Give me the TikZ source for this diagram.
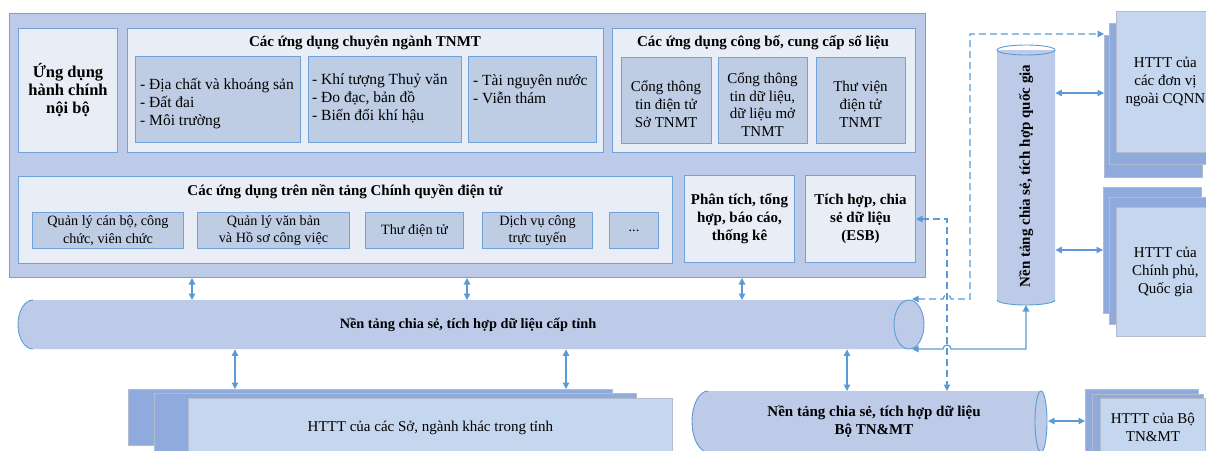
\documentclass[tikz,border=0pt]{standalone}
\usepackage{fontspec}
\setmainfont{Liberation Serif}
\usetikzlibrary{arrows.meta}
\definecolor{outerfill}{RGB}{189,203,232}
\definecolor{lightfill}{RGB}{233,237,245}
\definecolor{subfill}{RGB}{190,204,228}
\definecolor{bord}{RGB}{112,162,220}
\definecolor{arrc}{RGB}{91,155,213}
\definecolor{stkdark}{RGB}{143,170,220}
\definecolor{stklight}{RGB}{197,215,239}
\definecolor{stkbord}{RGB}{178,188,204}
\newcommand\bx[7]{\node[#1, anchor=north west, minimum width={(#5-#3)*1pt}, minimum height={(#6-#4)*1pt}, inner sep=0pt, align=center] (#2) at (#3,#4) {#7};}
\tikzset{
  nf/.style={font=\fontsize{15}{18}\selectfont},
  bf/.style={font=\fontsize{15}{18}\selectfont\bfseries},
  listf/.style={font=\fontsize{15.5}{18}\selectfont},
  smallf/.style={font=\fontsize{14.2}{17.5}\selectfont},
  obox/.style={draw=bord, fill=outerfill, line width=1pt},
  lbox/.style={draw=bord, fill=lightfill, line width=1pt, nf},
  sbox/.style={draw=bord, fill=subfill, line width=1pt, smallf},
  stkd/.style={draw=stkbord, fill=stkdark, line width=0.8pt, nf},
  stkl/.style={draw=stkbord, fill=stklight, line width=0.8pt, nf},
  cylf/.style={fill=outerfill},
  cyld/.style={draw=arrc, line width=0.9pt},
  tipA/.tip={Triangle[length=6.5pt,width=6.5pt]},
  arr/.style={draw=arrc, line width=1.2pt, tipA-tipA},
  darr/.style={draw=arrc, line width=1.2pt, tipA-tipA, dash pattern=on 7pt off 4pt},
  txt/.style={inner sep=0pt}
}
\begin{document}
\begin{tikzpicture}[x=1pt,y=-1pt]
\useasboundingbox (0,0) rectangle (1206,450);
\clip (0,0) rectangle (1206,450);

% ---------- main application block ----------
\bx{obox}{outer}{9}{13}{925}{277}{}
\bx{lbox, font=\fontsize{16.5}{18}\selectfont\bfseries}{hc}{18}{28}{117}{152}{Ứng dụng\\hành chính\\nội bộ}

\bx{lbox}{cn}{127}{28}{603}{152}{}
\node[bf, txt] (cnT) at (365,43) {Các ứng dụng chuyên ngành TNMT};
\bx{sbox}{cn1}{135}{56}{300}{142}{}
\node[listf, txt, anchor=west, align=left] (cn1T) at (140,103.5) {- Địa chất và khoáng sản\\- Đất đai\\- Môi trường};
\bx{sbox}{cn2}{308}{56}{461}{142}{}
\node[listf, txt, anchor=west, align=left] (cn2T) at (312,98) {- Khí tượng Thuỷ văn\\- Đo đạc, bản đồ\\- Biến đổi khí hậu};
\bx{sbox}{cn3}{468}{56}{596}{142}{}
\node[listf, txt, anchor=west, align=left] (cn3T) at (473,89) {- Tài nguyên nước\\- Viễn thám};

\bx{lbox}{cb}{612}{28}{915}{152}{}
\node[bf, txt] (cbT) at (763,43) {Các ứng dụng công bố, cung cấp số liệu};
\bx{sbox}{cb1}{621}{57}{711}{143}{}
\node[nf, txt, align=center] (cb1T) at (666,104) {Cổng thông\\tin điện tử\\Sở TNMT};
\bx{sbox}{cb2}{718}{57}{807}{143}{}
\node[nf, txt, align=center, font=\fontsize{15}{17.6}\selectfont] (cb2T) at (762.5,104.5) {Cổng thông\\tin dữ liệu,\\dữ liệu mở\\TNMT};
\bx{sbox}{cb3}{816}{57}{905}{143}{}
\node[nf, txt, align=center] (cb3T) at (860.5,104) {Thư viện\\điện tử\\TNMT};

\bx{lbox}{cq}{18}{176}{672}{263}{}
\node[bf, txt] (cqT) at (345,192) {Các ứng dụng trên nền tảng Chính quyền điện tử};
\bx{sbox}{cq1}{32}{212}{183}{248}{Quản lý cán bộ, công\\chức, viên chức}
\bx{sbox}{cq2}{197}{212}{349}{248}{Quản lý văn bản\\và Hồ sơ công việc}
\bx{sbox}{cq3}{365}{212}{463}{248}{Thư điện tử}
\bx{sbox}{cq4}{482}{212}{592}{248}{Dịch vụ công\\trực tuyến}
\bx{sbox}{cq5}{609}{212}{658}{248}{...}
\bx{lbox, bf}{pt}{684}{175}{794}{262}{Phân tích, tổng\\hợp, báo cáo,\\thống kê}
\bx{lbox, bf}{esb}{805}{175}{915}{262}{Tích hợp, chia\\sẻ dữ liệu\\(ESB)}

% ---------- provincial platform (horizontal cylinder) ----------
\fill[cylf] (33,300) arc[start angle=270,end angle=90,x radius=15,y radius=24.5] -- (909,349)
  arc[start angle=90,end angle=-90,x radius=15,y radius=24.5] -- cycle;
\draw[cyld] (33,300) arc[start angle=270,end angle=90,x radius=15,y radius=24.5];
\draw[cyld] (909,324.5) ellipse[x radius=15,y radius=24.5];
\node[txt, anchor=north west, minimum width=876pt, minimum height=49pt] (tinh) at (33,300) {};
\node[bf, txt, font=\fontsize{14.3}{18}\selectfont\bfseries] (tinhT) at (468,325) {Nền tảng chia sẻ, tích hợp dữ liệu cấp tỉnh};

% ---------- ministry platform ----------
\fill[cylf] (708,391) arc[start angle=270,end angle=90,x radius=16,y radius=30.5] -- (1041,452)
  arc[start angle=90,end angle=-90,x radius=6,y radius=30.5] -- cycle;
\draw[cyld] (708,391) arc[start angle=270,end angle=90,x radius=16,y radius=30.5];
\draw[cyld] (1041,421.5) ellipse[x radius=6,y radius=30.5];
\node[txt, anchor=north west, minimum width=339pt, minimum height=61pt] (bo) at (708,391) {};
\node[bf, txt, align=center] (boT) at (874,422) {Nền tảng chia sẻ, tích hợp dữ liệu\\Bộ TN\&MT};

% ---------- national platform (vertical cylinder) ----------
\fill[cylf] (997,50) -- (997,300) arc[start angle=180,end angle=0,x radius=29,y radius=5] -- (1055,50) -- cycle;
\draw[cyld] (997,300) arc[start angle=180,end angle=0,x radius=29,y radius=5];
\draw[cyld] (1026,50) ellipse[x radius=29,y radius=5];
\node[txt, anchor=north west, minimum width=58pt, minimum height=255pt] (qg) at (997,50) {};
\node[bf, txt, rotate=90] (qgT) at (1026,176) {Nền tảng chia sẻ, tích hợp quốc gia};

% ---------- stacks ----------
\bx{stkd}{so3}{128}{389}{612}{445}{}
\bx{stkd}{so2}{154}{393}{636}{456}{}
\bx{stkl}{so1}{188}{398}{672}{456}{HTTT của các Sở, ngành khác trong tỉnh}

\bx{stkd}{bs3}{1085}{389}{1198}{456}{}
\bx{stkd}{bs2}{1092}{394}{1203}{456}{}
\bx{stkl}{bs1}{1100}{398}{1205}{456}{HTTT của Bộ\\TN\&MT}

\bx{stkd}{cp3}{1103}{187}{1201}{313}{}
\bx{stkd}{cp2}{1109}{197}{1207}{324}{}
\bx{stkl}{cp1}{1116}{207}{1214}{336}{HTTT của\\Chính phủ,\\Quốc gia}

\bx{stkd}{nq3}{1104}{35}{1202}{177}{}
\bx{stkd}{nq2}{1109}{23}{1208}{164}{}
\bx{stkl}{nq1}{1116}{11}{1214}{152}{HTTT của\\các đơn vị\\ngoài CQNN}

% ---------- connectors ----------
\coordinate (xa) at (192,0);
\coordinate (xb) at (467,0);
\coordinate (xc) at (742,0);
\coordinate (xd) at (235,0);
\coordinate (xe) at (566,0);
\coordinate (xf) at (847,0);
\coordinate (xg) at (947,0);
\coordinate (xh) at (970,0);
\coordinate (ya) at (0,93);
\coordinate (yb) at (0,250);
\coordinate (yc) at (0,421);
\coordinate (yd) at (0,219);
\coordinate (ytop) at (0,34);
\coordinate (tinhEndTop) at (912,299);
\coordinate (tinhEndBot) at (912,349);
\coordinate (qgBot) at (1026,305);
\coordinate (boEnd) at (1048,421);

\draw[arr] (outer.south -| xa) -- (tinh.north -| xa);
\draw[arr] (outer.south -| xb) -- (tinh.north -| xb);
\draw[arr] (outer.south -| xc) -- (tinh.north -| xc);
\draw[arr] (tinh.south -| xd) -- (so3.north -| xd);
\draw[arr] (tinh.south -| xe) -- (so3.north -| xe);
\draw[arr] (tinh.south -| xf) -- (bo.north -| xf);

\draw[arr] (qg.east |- ya) -- (nq3.west |- ya);
\draw[arr] (qg.east |- yb) -- (cp3.west |- yb);
\draw[arr] (boEnd) -- (bs3.west |- yc);

% solid link provincial -> national (jumps over dashed line)
\draw[arr] (tinhEndBot) -- (943,349) arc[start angle=180,end angle=360,radius=4] -- (1026,349) -- (qgBot);
% dashed link provincial -> outside units
\draw[darr] (tinhEndTop) -- (943,299) arc[start angle=180,end angle=360,radius=4] -- (970,299) -- (xh |- ytop) -- (nq3.west |- ytop);
% dashed link ESB -> ministry platform
\draw[darr] (esb.east |- yd) -- (xg |- yd) -- (bo.north -| xg);
\end{tikzpicture}
\end{document}
